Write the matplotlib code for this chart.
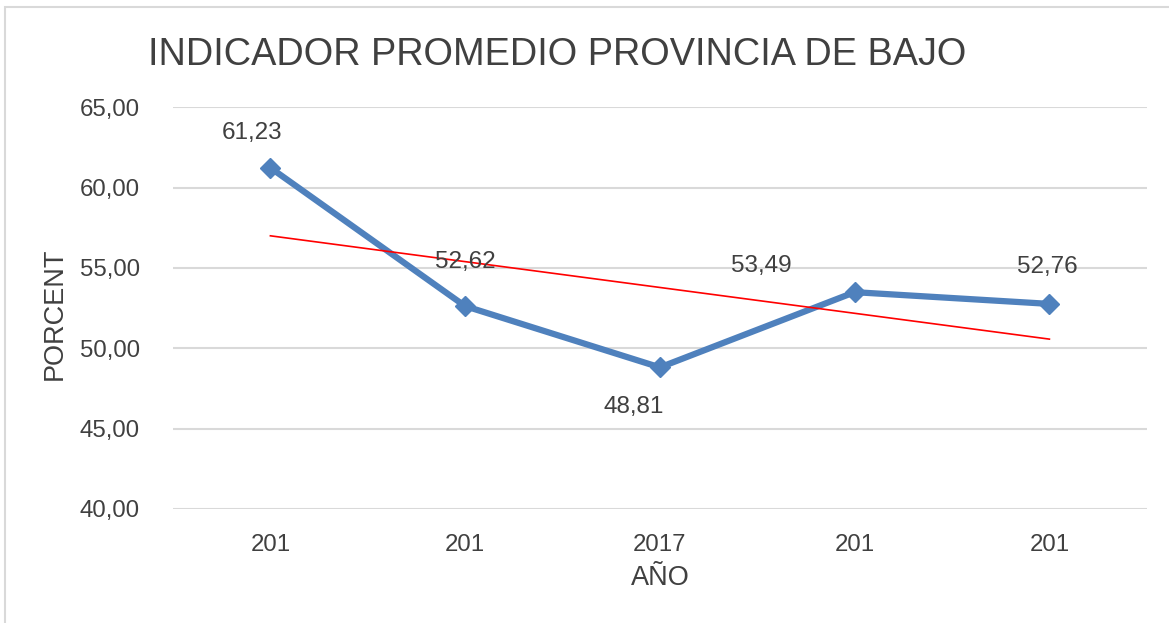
import matplotlib.pyplot as plt
import numpy as np
from matplotlib.patches import Rectangle

# Data
years = ["201", "201", "2017", "201", "201"]
values = [61.23, 52.62, 48.81, 53.49, 52.76]
# label offsets in pixels (dx, dy) as placed in the original
label_offsets = [(-18, 35), (0, 44), (-26, -40), (-93, 26), (-2, 37)]

plt.rcParams['font.family'] = ['Liberation Sans', 'DejaVu Sans']
text_color = '#404040'

fig = plt.figure(figsize=(11.69, 6.23), dpi=100)
ax = fig.add_axes([0.148, 0.183, 0.833, 0.645])

x = np.arange(len(values))
ax.plot(x, values, color='#4F81BD', linewidth=4.5, marker='D',
        markersize=10, zorder=3)

# linear trend line
slope, intercept = np.polyfit(x, values, 1)
ax.plot(x, slope * x + intercept, color='#FF0000', linewidth=1.2, zorder=4)

for xi, v, (dx, dy) in zip(x, values, label_offsets):
    ax.annotate(f"{v:.2f}".replace('.', ','), (xi, v), xytext=(dx, dy),
                textcoords='offset pixels', ha='center', va='center',
                fontsize=17.5, color=text_color, zorder=5)

ax.set_xlim(-0.5, len(values) - 0.5)
ax.set_ylim(40, 65)
ax.set_yticks(np.arange(40, 66, 5))
ax.set_yticklabels([f"{t:.2f}".replace('.', ',') for t in np.arange(40, 66, 5)])
ax.set_xticks(x)
ax.set_xticklabels(years)
ax.tick_params(axis='both', length=0, labelsize=17.3, colors=text_color)
ax.tick_params(axis='y', pad=24)
ax.tick_params(axis='x', pad=18)

ax.grid(axis='y', color='#D9D9D9', linewidth=1.5)
ax.set_axisbelow(True)
for s in ax.spines.values():
    s.set_visible(False)

fig.text(0.477, 0.912, "INDICADOR PROMEDIO PROVINCIA DE BAJO", ha='center',
         va='center', fontsize=27.3, color=text_color)
fig.text(0.047, 0.496, "PORCENT", rotation=90, ha='center', va='center',
         fontsize=19.5, color=text_color)
fig.text(0.565, 0.072, "AÑO", ha='center', va='center',
         fontsize=19.5, color=text_color)

# chart frame, only left and top edges are inside the image
fig.patches.append(Rectangle((0.0043, -0.2), 1.5, 1.1888, transform=fig.transFigure,
                             fill=False, edgecolor='#D9D9D9', linewidth=1.5))

fig.savefig('out.png', dpi=100)
